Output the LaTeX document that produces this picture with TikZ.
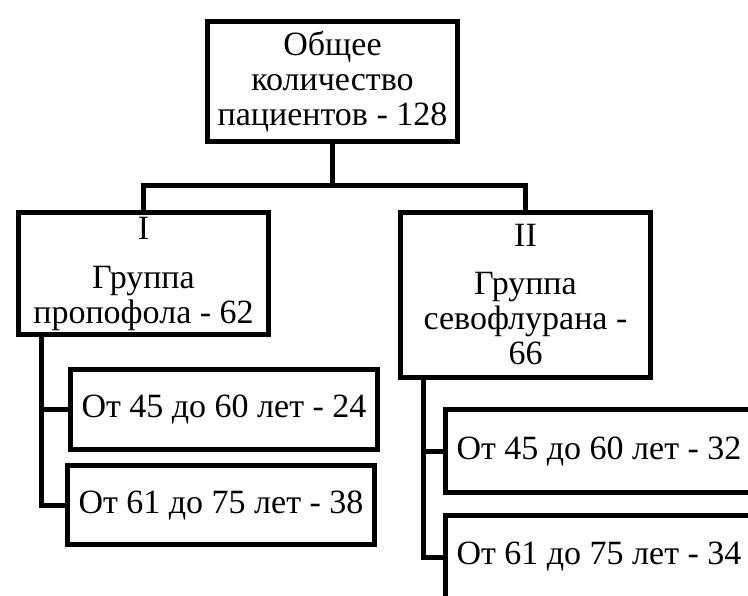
\documentclass[tikz,border=0pt]{standalone}
\usepackage{fontspec}
\setmainfont{Liberation Serif}
\begin{document}
\begin{tikzpicture}[x=1pt,y=-1pt,
  box/.style={draw=black, line width=5pt, rectangle, align=center, inner sep=0pt,
    font=\fontsize{34}{35}\selectfont},
  link/.style={draw=black, line width=5pt}]
\useasboundingbox (0,0) rectangle (748,596);
\fill[white] (0,0) rectangle (748,596);
\clip (0,0) rectangle (748,596);
\node[box, minimum width=250pt, minimum height=120pt] (top) at (332.5,82)
  {Общее\\количество\\пациентов - 128};
\node[box, minimum width=250pt, minimum height=122pt] (g1) at (143.5,273.5)
  {I\\[14pt]Группа\\пропофола - 62};
\node[box, minimum width=250pt, minimum height=165pt] (g2) at (525.5,295)
  {II\\[13pt]Группа\\севофлурана -\\66};
\node[box, minimum width=307pt, minimum height=80pt] (c1) at (224,409.5)
  {От 45 до 60 лет - 24};
\node[box, minimum width=307pt, minimum height=79pt] (c2) at (221,505)
  {От 61 до 75 лет - 38};
\node[box, minimum width=307pt, minimum height=83pt] (c3) at (599,451)
  {От 45 до 60 лет - 32};
\node[box, minimum width=307pt, minimum height=83pt] (c4) at (599,557)
  {От 61 до 75 лет - 34};
\coordinate (bar) at ([yshift=-41pt]top.south);
\draw[link] (top.south) -- (bar) -| (g1.north);
\draw[link] (bar) -| (g2.north);
\draw[link] ([xshift=25pt]g1.south west) |- (c1.west);
\draw[link] ([xshift=25pt]g1.south west) |- (c2.west);
\draw[link] ([xshift=25pt]g2.south west) |- (c3.west);
\draw[link] ([xshift=25pt]g2.south west) |- (c4.west);
\end{tikzpicture}
\end{document}
